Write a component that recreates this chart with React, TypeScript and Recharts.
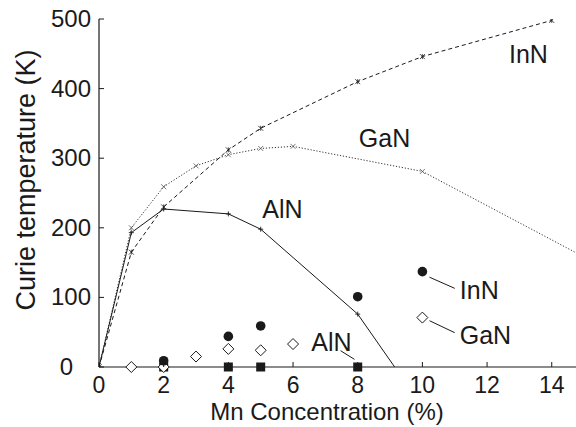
import React from 'react';
import { ComposedChart, Line, Scatter, XAxis, YAxis, ReferenceLine, ReferenceDot } from 'recharts';

// Theory curves (Curie temperature vs Mn concentration)
const concInN = [0, 1, 2, 4, 5, 8, 10, 14];
const tcInN = [0, 165, 230, 312, 343, 410, 446, 498];
const concGaN = [0, 1, 2, 3, 4, 5, 6, 10, 15];
const tcGaN = [0, 200, 259, 289, 305, 314, 317, 281, 158];
const concAlN = [0, 1, 2, 4, 5, 8, 10];
const tcAlN = [0, 193, 227, 220, 198, 76, -57];

// Experimental points
const expInNx = [2, 4, 5, 8, 10];
const expInNy = [9, 44, 59, 101, 137];
const expGaNx = [1, 2, 3, 4, 5, 6, 10];
const expGaNy = [0, 0, 15, 26, 24, 33, 71];
const expAlNx = [2, 4, 5, 8];
const expAlNy = [0, 0, 0, 0];

const xTicks = [0, 2, 4, 6, 8, 10, 12, 14];
const yTicks = [0, 100, 200, 300, 400, 500];

// Text annotations
const labelText = ['InN', 'GaN', 'AlN', 'InN', 'GaN', 'AlN'];
const labelX = [13.28, 8.83, 5.67, 11.76, 11.95, 7.19];
const labelY = [450, 329, 227, 111, 46, 36];
// Leader lines
const leaderX1 = [10.22, 10.22, 7.47];
const leaderY1 = [129, 66.5, 23.4];
const leaderX2 = [11.0, 11.0, 7.9];
const leaderY2 = [113, 49.3, 11];

const zip = (xs: number[], ys: number[]) => xs.map((x, i) => ({ x, y: ys[i] }));
const inN = zip(concInN, tcInN);
const gaN = zip(concGaN, tcGaN);
const alN = zip(concAlN, tcAlN);
const eInN = zip(expInNx, expInNy);
const eGaN = zip(expGaNx, expGaNy);
const eAlN = zip(expAlNx, expAlNy);

const INK = '#1a1a1a';
const FONT = '"Liberation Sans", Arial, Helvetica, sans-serif';
const XDOM: [number, number] = [0, 14.75];
const YDOM: [number, number] = [0, 500];

const XTick = (p: any) => {
  const { x, y, payload } = p;
  return (
    <g>
      <line x1={x} y1={y} x2={x} y2={y - 5} stroke={INK} strokeWidth={1} />
      <text x={x} y={y + 26} textAnchor="middle" fontSize={23} fontFamily={FONT} fill={INK}>
        {payload.value}
      </text>
    </g>
  );
};
const TopTick = (p: any) => {
  const { x, y } = p;
  return <line x1={x} y1={y} x2={x} y2={y + 5} stroke={INK} strokeWidth={1} />;
};
const YTick = (p: any) => {
  const { x, y, payload } = p;
  const tx = payload.value === 0 ? x - 26 : x - 8;
  return (
    <g>
      <line x1={x} y1={y} x2={x + 5} y2={y} stroke={INK} strokeWidth={1} />
      <text x={tx} y={y + 8} textAnchor="end" fontSize={24} fontFamily={FONT} fill={INK}>
        {payload.value}
      </text>
    </g>
  );
};

const Star = (p: any) => {
  const { cx, cy } = p;
  if (cx == null || cy == null) return <g />;
  const s = 2.5;
  return (
    <g stroke={INK} strokeWidth={0.8}>
      <line x1={cx - s} y1={cy - s} x2={cx + s} y2={cy + s} />
      <line x1={cx - s} y1={cy + s} x2={cx + s} y2={cy - s} />
      <line x1={cx} y1={cy - s} x2={cx} y2={cy + s} />
    </g>
  );
};
const Cross = (p: any) => {
  const { cx, cy } = p;
  if (cx == null || cy == null) return <g />;
  const s = 2.5;
  return (
    <g stroke="#555" strokeWidth={0.8}>
      <line x1={cx - s} y1={cy - s} x2={cx + s} y2={cy + s} />
      <line x1={cx - s} y1={cy + s} x2={cx + s} y2={cy - s} />
    </g>
  );
};
const Plus = (p: any) => {
  const { cx, cy } = p;
  if (cx == null || cy == null) return <g />;
  const s = 2.5;
  return (
    <g stroke={INK} strokeWidth={0.9}>
      <line x1={cx - s} y1={cy} x2={cx + s} y2={cy} />
      <line x1={cx} y1={cy - s} x2={cx} y2={cy + s} />
    </g>
  );
};

const CircleShape = (p: any) => <circle cx={p.cx} cy={p.cy} r={4.8} fill={INK} />;
const DiamondShape = (p: any) => {
  const { cx, cy } = p;
  const s = 5.5;
  return (
    <path
      d={`M${cx},${cy - s}L${cx + s},${cy}L${cx},${cy + s}L${cx - s},${cy}Z`}
      fill="#fff"
      stroke={INK}
      strokeWidth={1}
    />
  );
};
const SquareShape = (p: any) => <rect x={p.cx - 4.5} y={p.cy - 4.5} width={9} height={9} fill={INK} />;

export default function App() {
  return (
    <div style={{ position: 'absolute', left: 0, top: 0, width: 576, height: 427, background: '#fff' }}>
      <ComposedChart width={576} height={427} margin={{ top: 19, right: 0, bottom: 0, left: 0 }}>
        <XAxis
          type="number"
          dataKey="x"
          domain={XDOM}
          allowDataOverflow
          ticks={xTicks}
          interval={0}
          height={60}
          tickSize={0}
          tickMargin={0}
          tick={<XTick />}
          axisLine={{ stroke: INK, strokeWidth: 1.2 }}
          label={{
            content: (lp: any) => {
              const vb = lp.viewBox;
              return (
                <text x={vb.x + 228} y={vb.y + 53} textAnchor="middle" fontSize={24} fontFamily={FONT} fill={INK}>
                  Mn Concentration (%)
                </text>
              );
            },
          }}
        />
        <XAxis
          xAxisId="top"
          orientation="top"
          type="number"
          dataKey="x"
          domain={XDOM}
          allowDataOverflow
          ticks={xTicks}
          interval={0}
          height={0}
          tickSize={0}
          tickMargin={0}
          tick={<TopTick />}
          axisLine={{ stroke: INK, strokeWidth: 1.2 }}
        />
        <YAxis
          type="number"
          domain={YDOM}
          allowDataOverflow
          ticks={yTicks}
          interval={0}
          width={99}
          tickSize={0}
          tickMargin={0}
          tick={<YTick />}
          axisLine={{ stroke: INK, strokeWidth: 1.2 }}
          label={{
            content: () => (
              <text
                x={26}
                y={180}
                transform="rotate(-90 26 180)"
                textAnchor="middle"
                dominantBaseline="central"
                fontSize={27}
                fontFamily={FONT}
                fill={INK}
              >
                Curie temperature (K)
              </text>
            ),
          }}
        />
        <XAxis xAxisId="s" type="number" dataKey="x" domain={XDOM} hide />
        <YAxis yAxisId="s" type="number" domain={YDOM} hide />

        <Line data={inN} dataKey="y" type="linear" stroke={INK} strokeWidth={1} strokeDasharray="4 3" dot={<Star />} activeDot={false} isAnimationActive={false} />
        <Line data={gaN} dataKey="y" type="linear" stroke="#333" strokeWidth={1} strokeDasharray="1.2 1.8" dot={<Cross />} activeDot={false} isAnimationActive={false} />
        <Line data={alN} dataKey="y" type="linear" stroke={INK} strokeWidth={1} dot={<Plus />} activeDot={false} isAnimationActive={false} />

        <Scatter xAxisId="s" yAxisId="s" data={eAlN} dataKey="y" shape={<SquareShape />} isAnimationActive={false} />
        <Scatter xAxisId="s" yAxisId="s" data={eGaN} dataKey="y" shape={<DiamondShape />} isAnimationActive={false} />
        <Scatter xAxisId="s" yAxisId="s" data={eInN} dataKey="y" shape={<CircleShape />} isAnimationActive={false} />

        {leaderX1.map((x1, i) => (
          <ReferenceLine
            key={'ld' + i}
            xAxisId="s"
            yAxisId="s"
            segment={[{ x: x1, y: leaderY1[i] }, { x: leaderX2[i], y: leaderY2[i] }]}
            stroke={INK}
            strokeWidth={1}
          />
        ))}
        {labelText.map((t, i) => (
          <ReferenceDot
            key={'lb' + i}
            xAxisId="s"
            yAxisId="s"
            x={labelX[i]}
            y={labelY[i]}
            r={0}
            shape={(sp: any) => (
              <text x={sp.cx} y={sp.cy} textAnchor="middle" dominantBaseline="central" fontSize={25} fontFamily={FONT} fill={INK}>
                {t}
              </text>
            )}
          />
        ))}
      </ComposedChart>
    </div>
  );
}
